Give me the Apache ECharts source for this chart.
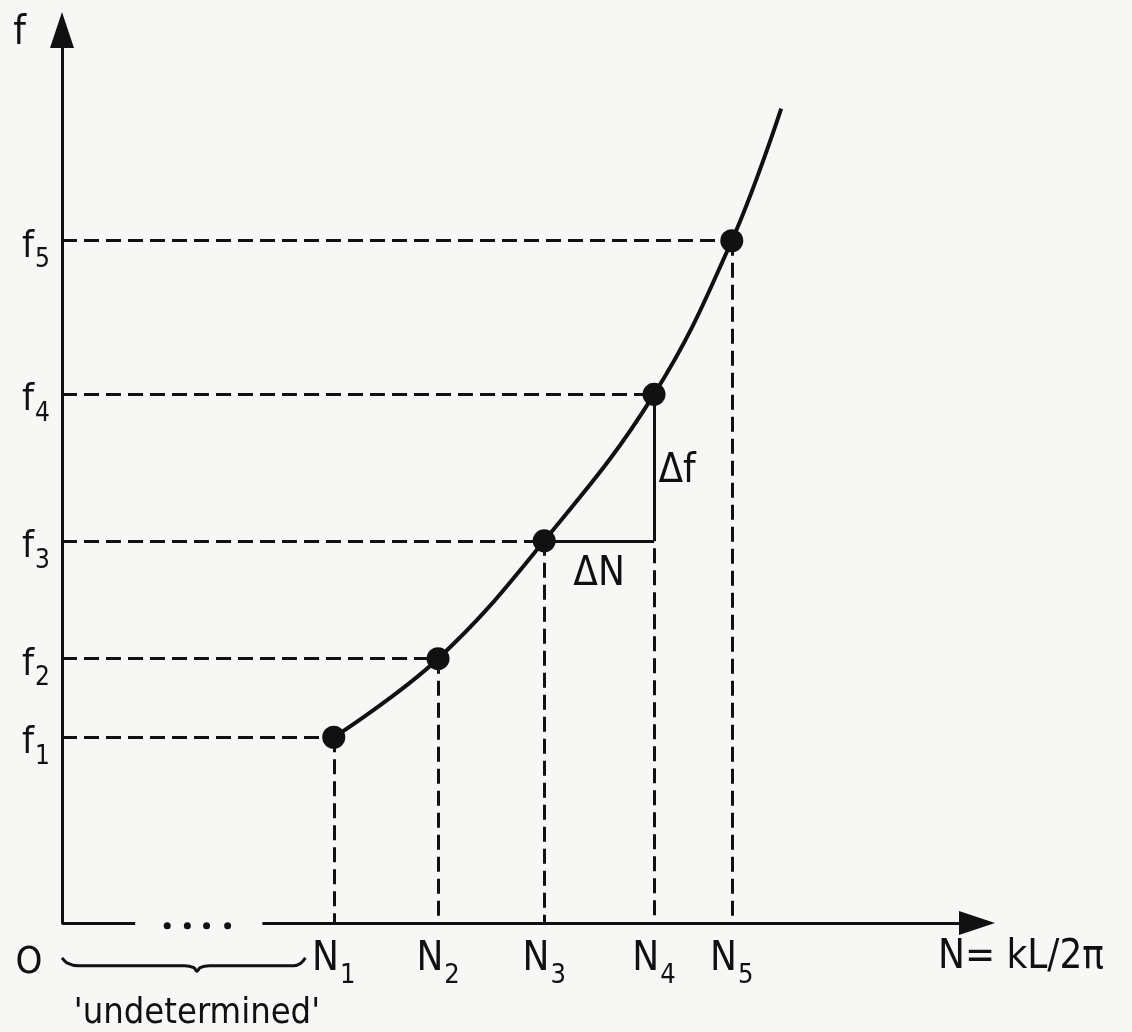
<!DOCTYPE html>
<html><head><meta charset="utf-8">
<script src="https://cdn.jsdelivr.net/npm/echarts@6/dist/echarts.min.js"></script>
<style>html,body{margin:0;padding:0;background:#f7f7f5}#c{width:1132px;height:1032px}</style>
</head><body><div id="c"></div>
<script>
// ---- data (arbitrary units) ----
const N_VALUES = [29.7, 41.1, 52.7, 64.7, 73.2];   // N1..N5
const F_VALUES = [20.8, 29.6, 42.8, 59.2, 76.4];   // f1..f5
const N_SUBS = ['1', '2', '3', '4', '5'];
const F_SUBS = ['1', '2', '3', '4', '5'];
const CURVE_END = [78.6, 91.2];                    // curve continues past N5
const AXIS_GAP = [8.0, 21.9];                      // x-axis break
const AXIS_DOTS = [11.5, 13.7, 15.8, 18.1];        // "...." in the break
const BRACE_X = [0, 0.6, 1.8, 13.4, 14.4, 14.75, 15.1, 16.1, 25.3, 26.1, 26.6];
const BRACE_Y = [-3.9, -4.5, -4.8, -4.8, -5.0, -5.4, -5.0, -4.8, -4.8, -4.5, -3.9];
const X_MAX = 100, Y_MAX = 100;

const FONT = "'Liberation Sans Narrow','DejaVu Sans Condensed','Liberation Sans',sans-serif";
const INK = '#111111';

const chart = echarts.init(document.getElementById('c'), null, {renderer: 'canvas'});

const pair = (a, b, extra) => [Object.assign({coord: a}, extra && extra[0]), Object.assign({coord: b}, extra && extra[1])];

const guideLines = [];
N_VALUES.forEach((n, i) => {
  guideLines.push(pair([0, F_VALUES[i]], [n, F_VALUES[i]]));
  guideLines.push(pair([n, F_VALUES[i]], [n, 0]));
});
const deltaLines = [
  pair([N_VALUES[2], F_VALUES[2]], [N_VALUES[3], F_VALUES[2]]),
  pair([N_VALUES[3], F_VALUES[2]], [N_VALUES[3], F_VALUES[3]])
];
const xAxisLines = [
  pair([0, 0], [AXIS_GAP[0], 0]),
  pair([AXIS_GAP[1], 0], [X_MAX, 0], [{symbol: 'none'}, {symbol: 'triangle', symbolSize: [24, 36]}])
];

const curveData = N_VALUES.map((n, i) => [n, F_VALUES[i]]).concat([CURVE_END]);

const richFor = (size, subSize, drop, top) => ({
  m: {fontSize: size, lineHeight: size, fontFamily: FONT, color: INK, verticalAlign: 'top', padding: [top, 0, 0, 0]},
  s: {fontSize: subSize, lineHeight: subSize, fontFamily: FONT, color: INK, verticalAlign: 'top', padding: [drop + top, 0, 0, 1]}
});

const noteLabel = (text, size, extra) => Object.assign({show: true, formatter: text, fontSize: size, fontFamily: FONT, color: INK, opacity: 1}, extra);

const option = {
  backgroundColor: '#f7f7f5',
  animation: false,
  grid: {left: 62, right: 155, top: 30, bottom: 109, containLabel: false, outerBoundsMode: 'none'},
  xAxis: {
    type: 'value', min: 0, max: X_MAX,
    axisLine: {show: false}, axisTick: {show: false}, splitLine: {show: false},
    axisLabel: {
      customValues: N_VALUES, margin: 17,
      formatter: v => { const i = N_VALUES.indexOf(v); return i < 0 ? '' : `{m|N}{s|${N_SUBS[i]}}`; },
      rich: richFor(40, 27, 22, 0)
    },
    name: 'N= kL/2\u03C0', nameLocation: 'end', nameGap: 44,
    nameTextStyle: {fontSize: 40, fontFamily: FONT, color: INK, align: 'center', verticalAlign: 'top', padding: [15, 0, 0, 0]}
  },
  yAxis: {
    type: 'value', min: 0, max: Y_MAX,
    axisLine: {show: true, symbol: ['none', 'triangle'], symbolSize: [24, 36], lineStyle: {color: INK, width: 3}},
    axisTick: {show: false}, splitLine: {show: false},
    axisLabel: {
      customValues: F_VALUES, margin: 12,
      formatter: v => { const i = F_VALUES.indexOf(v); return i < 0 ? '' : `{m|f}{s|${F_SUBS[i]}}`; },
      rich: richFor(38, 26, 20, 6)
    },
    name: 'f', nameLocation: 'end', nameGap: -4,
    nameTextStyle: {fontSize: 40, fontFamily: FONT, color: INK, align: 'right', verticalAlign: 'middle', padding: [0, 36, 0, 0]}
  },
  series: [
    {
      name: 'guides', type: 'line', data: [], clip: false, silent: true,
      markLine: {silent: true, symbol: ['none', 'none'], label: {show: false},
        lineStyle: {type: [15, 7], color: INK, width: 3, opacity: 1}, data: guideLines}
    },
    {
      name: 'delta', type: 'line', data: [], clip: false, silent: true,
      markLine: {silent: true, symbol: ['none', 'none'], label: {show: false},
        lineStyle: {type: 'solid', color: INK, width: 3, opacity: 1}, data: deltaLines}
    },
    {
      name: 'xaxis', type: 'line', data: [], clip: false, silent: true,
      markLine: {silent: true, symbol: ['none', 'none'], label: {show: false},
        lineStyle: {type: 'solid', color: INK, width: 3, opacity: 1}, data: xAxisLines}
    },
    {
      name: 'dots', type: 'scatter', data: AXIS_DOTS.map(x => [x, -0.3]), symbolSize: 7,
      itemStyle: {color: INK, opacity: 1}, clip: false, silent: true
    },
    {
      name: 'brace', type: 'line', data: BRACE_X.map((x, i) => [x, BRACE_Y[i]]), smooth: 0.3,
      symbol: 'none', clip: false, silent: true, lineStyle: {color: INK, width: 3}
    },
    {
      name: 'curve', type: 'line', data: curveData, smooth: 0.4, symbol: 'none',
      lineStyle: {color: INK, width: 4}, silent: true
    },
    {
      name: 'points', type: 'scatter', data: N_VALUES.map((n, i) => [n, F_VALUES[i]]),
      symbolSize: 23, itemStyle: {color: INK, opacity: 1}, silent: true
    },
    {
      name: 'notes', type: 'scatter', symbolSize: 1, clip: false, silent: true,
      itemStyle: {color: 'rgba(0,0,0,0)', opacity: 1},
      data: [
        {value: [0, 0], label: noteLabel('O', 38, {position: 'inside', offset: [-33, 40]})},
        {value: [BRACE_X[5], BRACE_Y[5]], label: noteLabel("'undetermined'", 36, {position: 'bottom', distance: 24})},
        {value: [(N_VALUES[2] + N_VALUES[3]) / 2, F_VALUES[2]], label: noteLabel('\u0394N', 40, {position: 'bottom', distance: 13})},
        {value: [N_VALUES[3], (F_VALUES[2] + F_VALUES[3]) / 2], label: noteLabel('\u0394f', 40, {position: 'right', distance: 4, offset: [0, 4]})}
      ]
    }
  ]
};
chart.setOption(option);
</script></body></html>
